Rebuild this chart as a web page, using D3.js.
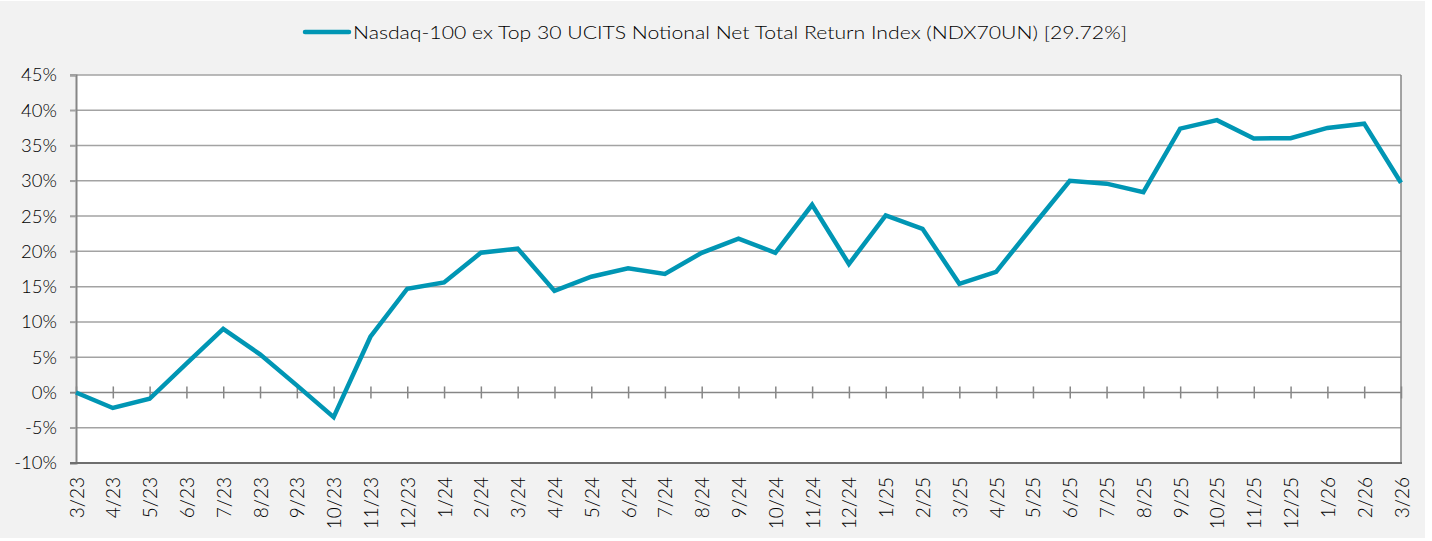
<!DOCTYPE html>
<html>
<head>
<meta charset="utf-8">
<script src="https://cdn.jsdelivr.net/npm/d3@7/dist/d3.min.js"></script>
<style>
  html, body { margin: 0; padding: 0; background: #ffffff; }
  svg { display: block; }
  text { font-family: "Lato", "Noto Sans", sans-serif; font-weight: 300; fill: #000000; }
</style>
</head>
<body>
<svg id="chart" width="1432" height="541"></svg>
<script>
const months = ["3/23","4/23","5/23","6/23","7/23","8/23","9/23","10/23","11/23","12/23",
  "1/24","2/24","3/24","4/24","5/24","6/24","7/24","8/24","9/24","10/24","11/24","12/24",
  "1/25","2/25","3/25","4/25","5/25","6/25","7/25","8/25","9/25","10/25","11/25","12/25",
  "1/26","2/26","3/26"];
const seriesValues = [0.0,-2.2,-0.9,4.1,9.0,5.4,1.0,-3.5,7.9,14.7,
  15.6,19.8,20.4,14.4,16.4,17.6,16.8,19.8,21.8,19.8,26.6,18.2,
  25.1,23.2,15.4,17.1,23.6,30.0,29.6,28.4,37.4,38.6,36.0,36.05,
  37.5,38.1,29.72];
const yTicks = [-10,-5,0,5,10,15,20,25,30,35,40,45];
const seriesName = "Nasdaq-100 ex Top 30 UCITS Notional Net Total Return Index (NDX70UN) [29.72%]";

const svg = d3.select("#chart");
const plot = { left: 76, right: 1401, top: 75, bottom: 463 };
const lineColor = "#0096b4";
const gridColor = "#a3a3a3";
const axisColor = "#868686";
const fontStack = "Lato, 'Noto Sans', sans-serif";

svg.append("rect").attr("x", 0).attr("y", 1).attr("width", 1425).attr("height", 537).attr("fill", "#f2f2f2");
svg.append("rect").attr("x", plot.left).attr("y", plot.top)
  .attr("width", plot.right - plot.left).attr("height", plot.bottom - plot.top).attr("fill", "#ffffff");

const x = d3.scalePoint().domain(months).range([plot.left, plot.right]);
const y = d3.scaleLinear().domain([-10, 45]).range([plot.bottom, plot.top]);

// gridlines
const grid = svg.append("g");
grid.selectAll("line").data(yTicks.filter(t => t !== -10 && t !== 0)).join("line")
  .attr("x1", plot.left - 6).attr("x2", plot.right)
  .attr("y1", d => y(d)).attr("y2", d => y(d))
  .attr("stroke", gridColor).attr("stroke-width", 1.5);

// y axis
const yAxis = svg.append("g").attr("transform", `translate(${plot.left},0)`)
  .call(d3.axisLeft(y).tickValues(yTicks).tickSize(6).tickPadding(13).tickFormat(d => d + "%"));
yAxis.select(".domain").attr("stroke", axisColor).attr("stroke-width", 2);
yAxis.selectAll(".tick line").attr("stroke", gridColor).attr("stroke-width", 1.5);
yAxis.selectAll(".tick text").attr("font-size", 18.5).attr("fill", "#000")
  .style("font-family", fontStack).style("font-weight", 300);

// right border
svg.append("line").attr("x1", plot.right).attr("x2", plot.right)
  .attr("y1", plot.top).attr("y2", plot.bottom)
  .attr("stroke", axisColor).attr("stroke-width", 1.5);

// zero line with ticks
const zero = svg.append("g").attr("transform", `translate(0,${y(0)})`)
  .call(d3.axisBottom(x).tickSize(0).tickFormat(""));
zero.select(".domain").remove();
zero.append("line").attr("x1", plot.left - 6).attr("x2", plot.right)
  .attr("stroke", axisColor).attr("stroke-width", 1.5);
zero.selectAll(".tick").append("line").attr("y1", -6).attr("y2", 6)
  .attr("stroke", axisColor).attr("stroke-width", 1.5);

// bottom axis with labels
const xAxis = svg.append("g").attr("transform", `translate(0,${plot.bottom})`)
  .call(d3.axisBottom(x).tickSize(0).tickPadding(0));
xAxis.select(".domain").remove();
xAxis.append("line").attr("x1", plot.left - 6).attr("x2", plot.right + 1)
  .attr("stroke", "#6e6e6e").attr("stroke-width", 2);
xAxis.selectAll(".tick text")
  .attr("font-size", 19).attr("fill", "#000")
  .style("font-family", fontStack).style("font-weight", 300)
  .attr("text-anchor", "end")
  .attr("dy", null).attr("y", null)
  .attr("transform", "translate(7,14) rotate(-90)");

// line
const line = d3.line().x((d, i) => x(months[i])).y(d => y(d));
svg.append("path").datum(seriesValues)
  .attr("d", line).attr("fill", "none")
  .attr("stroke", lineColor).attr("stroke-width", 4.5)
  .attr("stroke-linejoin", "miter").attr("stroke-linecap", "butt");

// legend
const lg = svg.append("g");
lg.append("line").attr("x1", 305).attr("x2", 349).attr("y1", 32).attr("y2", 32)
  .attr("stroke", lineColor).attr("stroke-width", 4.5).attr("stroke-linecap", "round");
lg.append("text").attr("x", 353).attr("y", 38.5).attr("font-size", 18.5)
  .attr("textLength", 774).attr("lengthAdjust", "spacingAndGlyphs")
  .text(seriesName);
</script>
</body>
</html>
